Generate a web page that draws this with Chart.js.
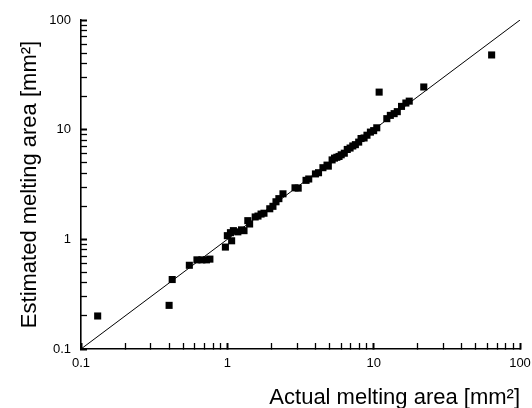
<!DOCTYPE html>
<html>
<head>
<meta charset="utf-8">
<script src="https://cdn.jsdelivr.net/npm/chart.js@4/dist/chart.umd.min.js"></script>
<style>
  html, body { margin: 0; padding: 0; background: #fff; }
  #wrap { width: 532px; height: 408px; }
</style>
</head>
<body>
<div id="wrap"><canvas id="myChart" width="532" height="408"></canvas></div>
<script>
const actualArea = [
  0.13, 0.4, 0.42, 0.55, 0.62, 0.67, 0.72, 0.76, 0.97, 1.0,
  1.07, 1.05, 1.1, 1.18, 1.25, 1.3, 1.38, 1.42, 1.55, 1.62,
  1.7, 1.78, 1.95, 2.05, 2.15, 2.25, 2.4, 2.9, 3.05, 3.45,
  3.6, 4.0, 4.2, 4.5, 4.8, 4.9, 5.2, 5.4, 5.6, 5.8,
  6.0, 6.3, 6.6, 6.9, 7.2, 7.5, 7.9, 8.2, 8.6, 9.0,
  9.5, 10.0, 10.5, 10.9, 12.3, 13.0, 13.8, 14.5, 15.5, 16.6,
  17.5, 22, 64
];
const estimatedArea = [
  0.2, 0.25, 0.43, 0.58, 0.65, 0.65, 0.65, 0.66, 0.85, 1.08,
  0.97, 1.15, 1.2, 1.17, 1.22, 1.2, 1.48, 1.38, 1.6, 1.63,
  1.7, 1.73, 1.9, 2.0, 2.2, 2.35, 2.6, 2.95, 2.93, 3.45,
  3.55, 3.95, 4.05, 4.5, 4.75, 4.65, 5.3, 5.5, 5.6, 5.7,
  5.9, 6.1, 6.6, 6.8, 7.1, 7.3, 7.7, 8.3, 8.4, 8.9,
  9.5, 9.8, 10.4, 22, 12.6, 13.5, 14.0, 14.6, 16.3, 17.5,
  18.2, 24.5, 48
];
// y = x reference line
const lineX = [0.1, 100];
const lineY = [0.1, 100];
const decadeLabels = [0.1, 1, 10, 100];
const minorSteps = [2, 3, 4, 5, 6, 7, 8, 9];

// every tick position: decades plus 2..9 multiples
const tickValues = [];
decadeLabels.forEach((d) => {
  tickValues.push(d);
  if (d < 100) minorSteps.forEach((m) => tickValues.push(+(d * m).toPrecision(3)));
});

const scatterData = actualArea.map((x, i) => ({ x: x, y: estimatedArea[i] }));
const lineData = lineX.map((x, i) => ({ x: x, y: lineY[i] }));

const isDecade = (v) => decadeLabels.some((d) => Math.abs(v - d) < d * 1e-6);

const font = "'Liberation Sans', Arial, sans-serif";

// ticks drawn inward (negative length), no grid inside the plot
const axisGrid = {
  display: true,
  drawOnChartArea: false,
  drawTicks: true,
  tickLength: -6,
  tickColor: "#000",
  tickWidth: (c) => (c.tick && isDecade(c.tick.value) ? 2 : 1.3),
};

const context = document.getElementById("myChart").getContext("2d");
const config = {
  type: "scatter",
  data: {
    datasets: [
      {
        type: "line",
        data: lineData,
        borderColor: "#000",
        borderWidth: 1,
        pointRadius: 0,
        fill: false,
      },
      {
        data: scatterData,
        pointStyle: "rect",
        pointRadius: 5,
        pointHoverRadius: 5,
        backgroundColor: "#000",
        borderColor: "#000",
        borderWidth: 0,
      },
    ],
  },
  options: {
    responsive: false,
    animation: false,
    layout: { padding: { top: 20, right: 12, left: 0, bottom: 0 } },
    plugins: {
      legend: { display: false },
      tooltip: { enabled: false },
    },
    scales: {
      x: {
        type: "logarithmic",
        min: 0.1,
        max: 100,
        afterBuildTicks: (scale) => {
          scale.ticks = tickValues.map((v) => ({ value: v }));
        },
        border: { display: true, color: "#000", width: 1.6 },
        grid: axisGrid,
        ticks: {
          autoSkip: false,
          maxRotation: 0,
          padding: 13,
          color: "#000",
          font: { family: font, size: 13 },
          callback: (v) => (isDecade(v) ? String(v) : ""),
        },
        title: {
          display: true,
          text: "Actual melting area [mm²]",
          align: "end",
          color: "#000",
          font: { family: font, size: 22 },
          padding: { top: 4, bottom: -3 },
        },
        afterFit: (scale) => {
          scale.height = 59;
          scale.paddingLeft = 0;
          scale.paddingRight = 0;
        },
      },
      y: {
        type: "logarithmic",
        min: 0.1,
        max: 100,
        afterBuildTicks: (scale) => {
          scale.ticks = tickValues.map((v) => ({ value: v }));
        },
        border: { display: true, color: "#000", width: 1.6 },
        grid: axisGrid,
        ticks: {
          autoSkip: false,
          padding: 16,
          color: "#000",
          font: { family: font, size: 13 },
          callback: (v) => (isDecade(v) ? String(v) : ""),
        },
        title: {
          display: true,
          text: "Estimated melting area [mm²]",
          color: "#000",
          font: { family: font, size: 22 },
          padding: { top: 17, bottom: 0 },
        },
        afterFit: (scale) => {
          scale.width = 81;
          scale.paddingTop = 0;
          scale.paddingBottom = 0;
        },
      },
    },
  },
};

const myChart = new Chart(context, config);
</script>
</body>
</html>
